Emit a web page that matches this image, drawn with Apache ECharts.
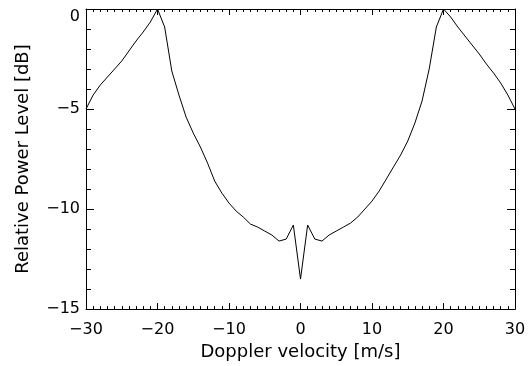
<!DOCTYPE html>
<html>
<head>
<meta charset="utf-8">
<script src="https://cdn.jsdelivr.net/npm/echarts@6/dist/echarts.min.js"></script>
<style>
  html, body { margin: 0; padding: 0; background: #fff; }
  #chart { width: 529px; height: 366px; }
</style>
</head>
<body>
<div id="chart"></div>
<script>
  // Doppler velocity [m/s]
  const velocity = [
    -30, -29, -28, -27, -26, -25, -24, -23, -22, -21,
    -20, -19, -18, -17, -16, -15, -14, -13, -12, -11,
    -10, -9, -8, -7, -6, -5, -4, -3, -2, -1,
    0, 1, 2, 3, 4, 5, 6, 7, 8, 9,
    10, 11, 12, 13, 14, 15, 16, 17, 18, 19,
    20, 21, 22, 23, 24, 25, 26, 27, 28, 29, 30
  ]
  // relative power level [dB]
  const power = [
    -5.0, -4.3, -3.8, -3.4, -3.0, -2.6, -2.1, -1.6, -1.15, -0.65,
    0, -0.9, -3.1, -4.3, -5.4, -6.2, -6.9, -7.7, -8.6, -9.2,
    -9.7, -10.1, -10.4, -10.75, -10.9, -11.1, -11.3, -11.6, -11.5, -10.8,
    -13.5, -10.8, -11.5, -11.6, -11.3, -11.1, -10.9, -10.7, -10.4, -10.0,
    -9.6, -9.1, -8.5, -7.9, -7.3, -6.6, -5.7, -4.6, -3.0, -0.9,
    0, -0.4, -0.9, -1.35, -1.8, -2.25, -2.75, -3.2, -3.7, -4.3, -5.0
  ]
  const xTicks = [-30, -20, -10, 0, 10, 20, 30]
  const yTicks = [-15, -10, -5, 0]

  const font = 'DejaVu Sans'
  const minus = v => String(v).replace('-', '\u2212')

  const chart = echarts.init(document.getElementById('chart'))

  const lineStyle = { color: '#000', width: 1 }
  const labelStyle = { fontFamily: font, fontSize: 16, color: '#000' }
  const nameStyle = { fontFamily: font, fontSize: 18, color: '#000' }

  const xBase = {
    type: 'value', min: -30, max: 30, interval: 10,
    axisLine: { show: true, onZero: false, lineStyle },
    axisTick: { show: true, inside: true, length: 6, lineStyle },
    minorTick: { show: true, splitNumber: 10, length: 3, lineStyle },
    splitLine: { show: false }
  }
  const yBase = {
    type: 'value', min: -15, max: 0, interval: 5,
    axisLine: { show: true, onZero: false, lineStyle },
    axisTick: { show: true, inside: true, length: 8, lineStyle },
    minorTick: { show: true, splitNumber: 5, length: 5, lineStyle },
    splitLine: { show: false }
  }

  chart.setOption({
    animation: false,
    backgroundColor: '#fff',
    grid: { left: 86, right: 14, top: 9, bottom: 54, containLabel: false },
    xAxis: [
      Object.assign({}, xBase, {
        position: 'bottom',
        name: 'Doppler velocity [m/s]',
        nameLocation: 'middle',
        nameGap: 30,
        nameTextStyle: nameStyle,
        axisLabel: Object.assign({ margin: 13, formatter: v => xTicks.includes(v) ? minus(v) : '' }, labelStyle)
      }),
      Object.assign({}, xBase, { position: 'top', axisLabel: { show: false } })
    ],
    yAxis: [
      Object.assign({}, yBase, {
        position: 'left',
        name: 'Relative Power Level [dB]',
        nameLocation: 'middle',
        nameGap: 54,
        nameTextStyle: nameStyle,
        axisLabel: Object.assign({
          margin: 6,
          verticalAlignMaxLabel: 'top',
          formatter: v => yTicks.includes(v) ? minus(v) : ''
        }, labelStyle)
      }),
      Object.assign({}, yBase, { position: 'right', axisLabel: { show: false } })
    ],
    series: [{
      type: 'line',
      data: velocity.map((v, i) => [v, power[i]]),
      showSymbol: false,
      smooth: false,
      lineStyle: { color: '#000', width: 1 }
    }]
  })
</script>
</body>
</html>
